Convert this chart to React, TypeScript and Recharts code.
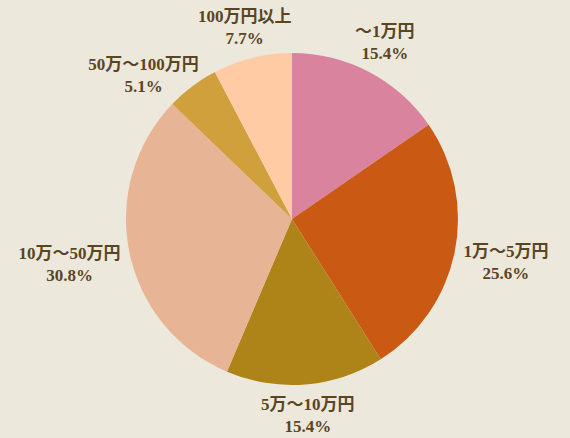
import React, { useMemo } from 'react';
import { PieChart, Pie, Cell } from 'recharts';

const categories = ['～1万円', '1万～5万円', '5万～10万円', '10万～50万円', '50万～100万円', '100万円以上'];
const counts = [6, 10, 6, 12, 2, 3];
const colors = ['#D9839F', '#CA5913', '#AE8317', '#E7B596', '#CFA03B', '#FFCBA5'];

const W = 570;
const H = 438;
const CX = 292;
const CY = 219;
const R = 166;
const GAP = 9;
const LINE = 22;
const FONT_FAMILY = "'Liberation Serif', 'Noto Sans CJK JP', serif";
const FONT_SIZE = 17;
const TEXT_COLOR = '#5A4523';
const BG = '#EDE8DC';

const total = counts.reduce((a, b) => a + b, 0);
const percentLabels = counts.map((v) => ((v / total) * 100).toFixed(1) + '%');
const data = categories.map((name, i) => ({ name, value: counts[i] }));

function measure(ctx: CanvasRenderingContext2D | null, t: string) {
  if (!ctx) return t.length * FONT_SIZE * 0.8;
  return ctx.measureText(t).width;
}

function computeLayout() {
  const canvas = document.createElement('canvas');
  const ctx = canvas.getContext('2d');
  if (ctx) ctx.font = `bold ${FONT_SIZE}px ${FONT_FAMILY}`;
  let a = 90;
  const items = counts.map((v, i) => {
    const sweep = (v / total) * 360;
    const mid = a - sweep / 2;
    a -= sweep;
    const w = Math.max(measure(ctx, categories[i]), measure(ctx, percentLabels[i]));
    return { mid, hw: w / 2, hh: LINE };
  });
  const place = (it: { hw: number; hh: number }, ang: number) => {
    const r = (ang * Math.PI) / 180;
    const c = Math.cos(r);
    const s = Math.sin(r);
    const ex = Math.abs(c) > 1e-6 ? it.hw / Math.abs(c) : Infinity;
    const ey = Math.abs(s) > 1e-6 ? it.hh / Math.abs(s) : Infinity;
    const d = R + GAP + Math.min(ex, ey);
    return { x: CX + d * c, y: CY - d * s };
  };
  const M = 4;
  const placed: { i: number; x: number; y: number; hw: number; hh: number; mid: number }[] = [];
  const result: { x: number; y: number }[] = new Array(counts.length);
  for (let i = counts.length - 1; i >= 0; i--) {
    const it = items[i];
    let ang = it.mid;
    let pos = place(it, ang);
    let guard = 0;
    const hit = () =>
      placed.find(
        (p) => Math.abs(p.x - pos.x) < p.hw + it.hw + M && Math.abs(p.y - pos.y) < p.hh + it.hh + M
      );
    let other = hit();
    while (other && guard < 360) {
      let diff = it.mid - other.mid;
      while (diff > 180) diff -= 360;
      while (diff <= -180) diff += 360;
      ang += diff >= 0 ? 0.5 : -0.5;
      pos = place(it, ang);
      other = hit();
      guard++;
    }
    placed.push({ i, x: pos.x, y: pos.y, hw: it.hw, hh: it.hh, mid: it.mid });
    result[i] = pos;
  }
  return result;
}

export default function App() {
  const layout = useMemo(() => computeLayout(), []);

  const renderLabel = (props: any) => {
    const i = props.index;
    const p = layout[i];
    if (!p) return null;
    return (
      <g key={`lbl-${i}`}>
        <text
          x={p.x}
          y={p.y - LINE / 2}
          textAnchor="middle"
          dominantBaseline="central"
          fill={TEXT_COLOR}
          fontFamily={FONT_FAMILY}
          fontSize={FONT_SIZE}
          fontWeight="bold"
        >
          {categories[i]}
        </text>
        <text
          x={p.x}
          y={p.y + LINE / 2}
          textAnchor="middle"
          dominantBaseline="central"
          fill={TEXT_COLOR}
          fontFamily={FONT_FAMILY}
          fontSize={FONT_SIZE}
          fontWeight="bold"
        >
          {percentLabels[i]}
        </text>
      </g>
    );
  };

  return (
    <div style={{ position: 'absolute', left: 0, top: 0, width: W, height: H, background: BG }}>
      <PieChart width={W} height={H} margin={{ top: 0, right: 0, bottom: 0, left: 0 }}>
        <Pie
          data={data}
          dataKey="value"
          nameKey="name"
          cx={CX}
          cy={CY}
          outerRadius={R}
          innerRadius={0}
          startAngle={90}
          endAngle={-270}
          stroke="none"
          label={renderLabel}
          labelLine={false}
          isAnimationActive={false}
        >
          {data.map((d, i) => (
            <Cell key={d.name} fill={colors[i]} stroke="none" />
          ))}
        </Pie>
      </PieChart>
    </div>
  );
}
